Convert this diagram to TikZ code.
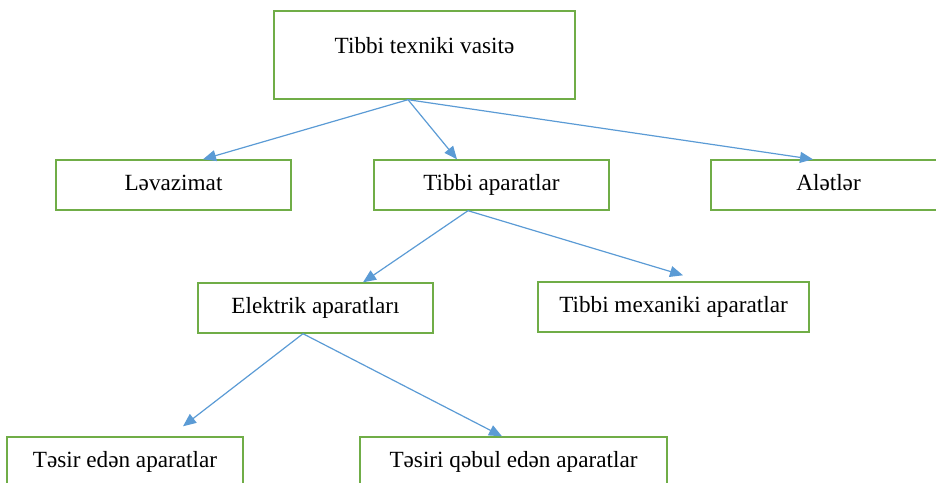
\documentclass[tikz,border=0pt]{standalone}
\usepackage{fontspec}
\setmainfont{Liberation Serif}
\usepackage{tikz}
\usetikzlibrary{arrows.meta}

\definecolor{boxgreen}{HTML}{70AD47}
\definecolor{arrowblue}{HTML}{5B9BD5}

\begin{document}
\begin{tikzpicture}[
        x=1pt, y=-1pt,
        block/.style = {rectangle, draw=boxgreen, line width=1.4pt, minimum width=#1, minimum height=50pt,
                        inner sep=0pt, text height=16pt, text depth=5pt, font=\fontsize{23.2}{27}\selectfont},
        block/.default = 235pt,
        link/.style = {->, draw=arrowblue, line width=1.2pt},
        >={Triangle[length=13pt, width=11pt]}
        ]

        \useasboundingbox (0,0) rectangle (936,482);
        \clip (0,0) rectangle (936,482);

        \node (vasita) at (424.5,55)     [block=301pt, minimum height=88pt, text depth=20pt] {Tibbi texniki vasitə};

        \node (levazimat) at (173.5,185) [block] {Ləvazimat};
        \node (aparat) at (491.5,185)    [block] {Tibbi aparatlar};
        \node (aletler) at (828.5,185)   [block] {Alətlər};

        \node (elektrik) at (315.5,308)  [block] {Elektrik aparatları};
        \node (mexaniki) at (673.5,307)  [block=271pt] {Tibbi mexaniki aparatlar};

        \node (tesir) at (125,462)       [block=236pt] {Təsir edən aparatlar};
        \node (qebul) at (513.5,462)     [block=307pt] {Təsiri qəbul edən aparatlar};

        \draw[link] ([xshift=-16.5pt]vasita.south) -- ([xshift=29.5pt]levazimat.north);
        \draw[link] ([xshift=-16.5pt]vasita.south) -- ([xshift=-34.5pt]aparat.north);
        \draw[link] ([xshift=-16.5pt]vasita.south) -- ([xshift=-15.5pt]aletler.north);

        \draw[link] ([xshift=-23.5pt]aparat.south) -- ([xshift=47.5pt]elektrik.north);
        \draw[link] ([xshift=-23.5pt]aparat.south) -- ([xshift=9.5pt, yshift=6pt]mexaniki.north);

        \draw[link] ([xshift=-12.5pt]elektrik.south) -- ([xshift=58pt, yshift=10pt]tesir.north);
        \draw[link] ([xshift=-12.5pt]elektrik.south) -- ([xshift=-11.5pt]qebul.north);

    \end{tikzpicture}
\end{document}
